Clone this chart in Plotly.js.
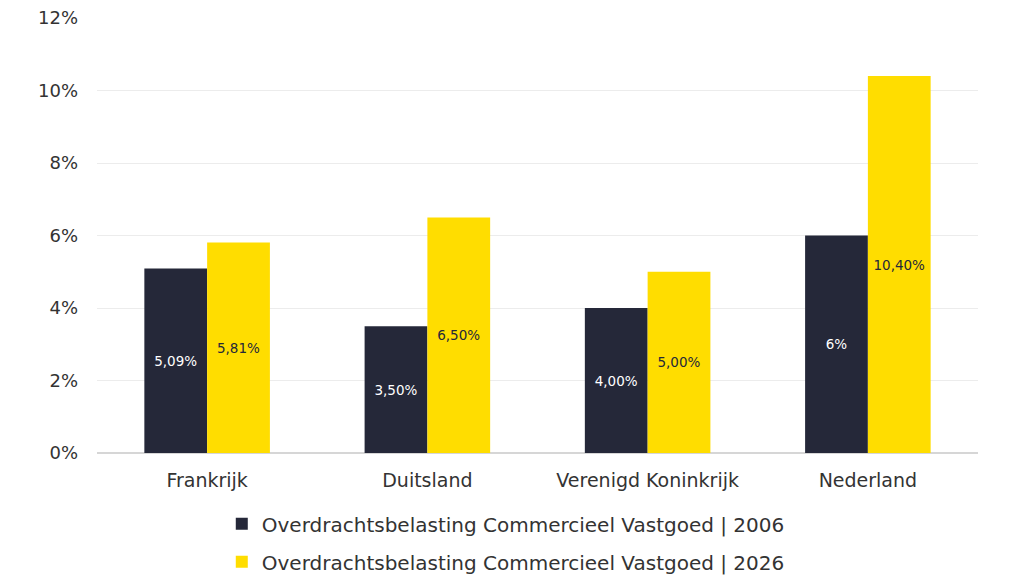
<!DOCTYPE html>
<html>
<head>
<meta charset="utf-8">
<script src="https://cdn.plot.ly/plotly-3.0.1.min.js"></script>
<style>
  html, body { margin: 0; padding: 0; background: #fff; }
  #chart { width: 1024px; height: 576px; }
</style>
</head>
<body>
<div id="chart"></div>
<script>
// data
const countries = ["Frankrijk", "Duitsland", "Verenigd Koninkrijk", "Nederland"];
const tax2006 = [5.09, 3.5, 4.0, 6.0];
const tax2026 = [5.81, 6.5, 5.0, 10.4];
const labels2006 = ["5,09%", "3,50%", "4,00%", "6%"];
const labels2026 = ["5,81%", "6,50%", "5,00%", "10,40%"];
const seriesNames = [
    "Overdrachtsbelasting Commercieel Vastgoed | 2006",
    "Overdrachtsbelasting Commercieel Vastgoed | 2026"
];

const fontFamily = "'DejaVu Sans', sans-serif";

const traces = [
    {
        type: 'bar',
        x: countries,
        y: tax2006,
        name: seriesNames[0],
        legendgroup: 'a',
        text: labels2006,
        textposition: 'inside',
        insidetextanchor: 'middle',
        textangle: 0,
        insidetextfont: {color: '#ffffff', size: 13.5, family: fontFamily},
        marker: {color: '#252839'},
        hoverinfo: 'skip'
    },
    {
        type: 'bar',
        x: countries,
        y: tax2026,
        name: seriesNames[1],
        legendgroup: 'b',
        text: labels2026,
        textposition: 'inside',
        insidetextanchor: 'middle',
        textangle: 0,
        insidetextfont: {color: '#252839', size: 13.5, family: fontFamily},
        marker: {color: '#ffdd00'},
        hoverinfo: 'skip'
    }
];

const layout = {
    width: 1024,
    height: 576,
    margin: {l: 97, r: 46, t: 18, b: 123, autoexpand: false},
    paper_bgcolor: '#ffffff',
    plot_bgcolor: '#ffffff',
    font: {family: fontFamily, color: '#333333', size: 18},
    barmode: 'group',
    bargap: 0.43,
    bargroupgap: 0,
    uniformtext: {mode: 'show', minsize: 10},
    xaxis: {
        showgrid: false,
        showline: false,
        ticks: '',
        tickangle: 0,
        ticklabelstandoff: 14,
        tickfont: {size: 19, color: '#333333'}
    },
    yaxis: {
        range: [0, 12],
        dtick: 2,
        ticksuffix: '%',
        showgrid: true,
        gridcolor: '#ececec',
        zeroline: true,
        zerolinecolor: '#d6d6d6',
        zerolinewidth: 1.5,
        ticklabelstandoff: 18,
        tickfont: {size: 18, color: '#333333'}
    },
    showlegend: true,
    legend: {
        orientation: 'v',
        x: 0.464,
        xanchor: 'center',
        y: -0.118,
        yanchor: 'top',
        traceorder: 'grouped',
        tracegroupgap: 9,
        font: {size: 20, color: '#333333'},
        itemwidth: 30
    }
};

Plotly.newPlot('chart', traces, layout, {displayModeBar: false, staticPlot: true});
</script>
</body>
</html>
